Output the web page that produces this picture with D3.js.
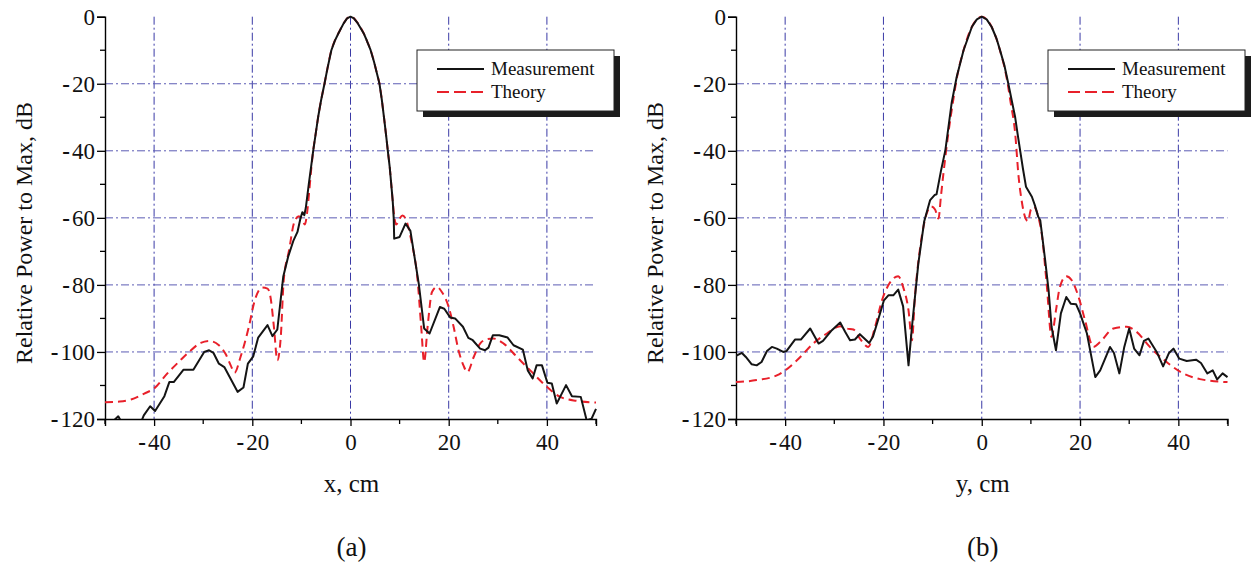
<!DOCTYPE html>
<html>
<head>
<meta charset="utf-8">
<script src="https://cdn.jsdelivr.net/npm/d3@7"></script>
<style>
  body { margin: 0; background: #fff; }
  svg { display: block; }
</style>
</head>
<body>
<div id="chart"></div>
<script>
// tick values
const xTicks = [-40, -20, 0, 20, 40];
const xMinor = [-50, -30, -10, 10, 30, 50];
const yTicks = [0, -20, -40, -60, -80, -100, -120];
const yMinor = [-10, -30, -50, -70, -90, -110];
const yGrid = [-20, -40, -60, -80, -100];
const legendLabels = ['Measurement', 'Theory'];

// (a) x-cut, measurement
const measAx = [-50, -48.6, -47.3, -46.2, -44.5, -42.8, -42.1, -40.8, -39.8, -37.9, -36.9, -36.0, -34.0, -32.0, -29.8, -28.8, -27.9, -26.8, -25.7, -23.0, -21.8, -20.9, -19.8, -18.8, -16.9, -15.9, -14.9, -13.7, -12.7, -11.6, -10.8, -10.2, -9.8, -9.4, -9.1, -8.5, -8.0, -7.6, -7.1, -6.6, -6.0, -5.3, -4.7, -3.9, -3.2, -2.4, -1.4, -0.7, 0, 0.7, 1.5, 2.7, 3.4, 4.1, 4.8, 5.4, 5.9, 6.4, 6.9, 7.3, 7.6, 8.0, 8.3, 8.6, 8.8, 8.9, 10.0, 11.2, 12.2, 13.9, 15.0, 16.1, 18.2, 19.1, 20.3, 21.3, 22.9, 24.0, 24.9, 26.4, 27.4, 28.1, 29.0, 30.3, 32.0, 33.2, 35.1, 36.1, 37.1, 37.9, 39.0, 40.1, 41.0, 42.0, 43.9, 45.1, 46.9, 48.1, 49.1, 50.0];
const measAy = [-124, -121, -119.2, -122, -125, -121.5, -118.9, -116.2, -117.6, -113.2, -109.0, -109.0, -105.3, -105.3, -100.0, -99.5, -100.3, -103.5, -104.5, -111.9, -110.6, -103.5, -101.3, -95.7, -92.0, -95.3, -93.3, -77.6, -71.6, -66.7, -64.2, -60.2, -58.3, -59.2, -57, -50, -44.5, -40, -35, -30, -25, -20, -15.5, -10, -7.2, -4.8, -2, -0.5, 0, -0.5, -2, -5, -7.4, -10, -13.5, -17, -20, -25, -31, -36, -40, -45, -50, -55, -60, -66.2, -65.7, -61.7, -63.9, -79.6, -93.0, -94.5, -86.6, -87.1, -89.7, -90.0, -92.5, -95.8, -96.5, -99.0, -99.5, -98.7, -95.0, -95.0, -95.7, -98.0, -99.3, -105.5, -107.9, -104.0, -104.0, -109.2, -109.4, -115.4, -109.9, -113.2, -113.4, -120.4, -119.9, -117];

// (a) x-cut, theory
const theoAx = [-50, -47, -44.7, -42.0, -40.0, -37.3, -35, -32.9, -30.5, -28.8, -26.8, -25.4, -24.4, -23.6, -22.4, -20.7, -19.5, -18.0, -16.9, -16.3, -15.6, -14.9, -14.2, -13.6, -12.5, -11.5, -10.5, -9.8, -9.3, -8.8, -8.4, -8.0, -7.6, -7.1, -6.6, -6.0, -5.3, -4.7, -3.9, -3.2, -2.4, -1.4, -0.7, 0, 0.7, 1.5, 2.7, 3.4, 4.1, 4.8, 5.4, 5.9, 6.4, 6.9, 7.3, 7.6, 8.0, 8.3, 8.6, 8.9, 9.3, 9.9, 10.6, 11.2, 12.5, 13.6, 14.4, 15.0, 15.7, 16.6, 17.6, 18.6, 20.0, 21.0, 22.0, 23.0, 23.8, 25.1, 26.4, 27.8, 29.1, 31.2, 33.9, 36.6, 40.0, 42.7, 46.1, 50.0];
const theoAy = [-115, -114.8, -114.2, -112.4, -110.9, -106.4, -103, -100.0, -97.3, -96.7, -98.0, -100.7, -104, -106.2, -101.5, -92.5, -84.6, -80.8, -81.1, -83.6, -92.5, -102.5, -95.5, -78.6, -69.6, -61.5, -59.5, -60.5, -62, -58, -52, -45.5, -40, -35, -30, -25, -20, -15.5, -10, -7.2, -4.8, -2, -0.5, 0, -0.5, -2, -5, -7.4, -10, -13.5, -17, -20, -25, -31, -36, -40, -45, -50, -55, -59.5, -62, -60.5, -59.3, -60.2, -67.6, -77.6, -92.5, -103.0, -92.5, -82.1, -80.6, -82.1, -86.6, -92.5, -99.5, -104, -106.0, -101.5, -97.5, -96.2, -96.0, -97.5, -101.5, -105.5, -110.4, -113.4, -114.6, -115.1];

// (b) y-cut, measurement
const measBx = [-50, -48.8, -48.0, -46.8, -45.8, -44.8, -43.7, -42.7, -41.7, -40.4, -39.7, -38.0, -36.8, -34.9, -33.2, -32.3, -30.5, -28.8, -27.8, -26.8, -25.8, -24.8, -22.9, -22.1, -21.0, -19.9, -19.0, -18.0, -17.0, -16.0, -14.9, -14.2, -12.9, -11.7, -10.5, -9.6, -9.2, -8.3, -7.4, -6.6, -6.1, -5.1, -3.7, -2.0, -1.0, 0, 1.0, 2.0, 3.0, 3.7, 4.6, 5.4, 6.1, 6.8, 7.3, 7.8, 8.4, 9.0, 10.2, 10.8, 11.5, 11.9, 12.9, 13.6, 14.2, 15.1, 16.1, 17.2, 18.1, 19.2, 20.0, 21.4, 23.1, 24.1, 26.1, 26.9, 28.0, 29.0, 30.0, 31.0, 32.1, 33.0, 33.9, 35.6, 36.9, 38.1, 39.0, 40.2, 41.7, 43.6, 44.6, 45.9, 47.0, 47.9, 49.0, 50.0];
const measBy = [-101.2, -100.3, -101.5, -103.7, -104.0, -103.0, -99.7, -98.5, -99.0, -100.0, -99.7, -96.3, -96.3, -93.0, -97.5, -96.7, -93.5, -91.2, -94.0, -96.5, -96.3, -94.7, -97.3, -95.3, -90.0, -84.6, -83.1, -83.1, -81.4, -86.4, -104.0, -92.5, -73.6, -61, -54.7, -53.2, -53, -46, -39.8, -31, -25.5, -18, -10, -3, -0.8, 0, -0.8, -3, -6.5, -9.9, -14.5, -19.9, -25, -30, -35, -39.8, -45.5, -50.7, -53.7, -56.2, -59.7, -60.7, -72.6, -81.6, -92.5, -99.5, -88.5, -83.6, -85.6, -85.8, -88.5, -94.5, -107.5, -105.5, -98.5, -100.3, -106.4, -98.5, -93.0, -99.0, -101.0, -96.7, -96.0, -100.0, -104.3, -100.3, -99.0, -102.0, -102.7, -102.3, -103.3, -106.4, -105.5, -108.2, -106.4, -107.5];

// (b) y-cut, theory
const theoBx = [-50, -45.8, -41.7, -40.0, -37.6, -33.9, -31.5, -28.8, -27.5, -26.1, -24.8, -23.1, -21.7, -20.3, -18.8, -17.0, -16.0, -14.9, -14.2, -13.6, -12.6, -11.2, -10.3, -9.5, -8.8, -8.3, -7.8, -6.8, -5.8, -5.1, -3.7, -2.0, -1.0, 0, 1.0, 2.0, 3.7, 5.1, 5.8, 6.8, 7.5, 8.1, 8.8, 9.4, 10.0, 10.6, 11.5, 12.2, 13.2, 14.2, 15.1, 15.9, 17.2, 18.3, 19.7, 21.0, 22.7, 24.1, 26.8, 29.5, 31.5, 34.2, 37.6, 41.0, 44.4, 50.0];
const theoBy = [-109.0, -108.4, -107.0, -105.5, -102.5, -97.0, -94.5, -92.3, -93.0, -93.3, -96.0, -98.5, -92.5, -84.6, -79.6, -77.4, -80.6, -87.6, -96.5, -83.6, -69.6, -58.7, -56.6, -57.5, -60.2, -53.5, -46.8, -34.8, -24.9, -18.5, -10, -3, -0.8, 0, -0.8, -3, -10, -18.5, -24.9, -34.8, -47.8, -54.7, -59.7, -61, -57.5, -56.7, -59.7, -64.7, -79.6, -95.5, -87.6, -80.6, -77.4, -78.6, -83.6, -90.5, -98.5, -97.0, -93.0, -92.5, -94.0, -98.5, -103.0, -106.4, -108.1, -109.0];

const W = 1257, H = 566;
const FONT = '"Liberation Serif", "Times New Roman", serif';

const svg = d3.select('#chart')
  .append('svg')
  .attr('width', W)
  .attr('height', H)
  .style('font-family', FONT);

svg.append('rect').attr('width', W).attr('height', H).attr('fill', '#fff');

// tick label: bold hyphen, small gap, then digits
function tickLabel(sel) {
  sel.each(function (d) {
    const t = d3.select(this).text(null);
    if (d < 0) {
      t.append('tspan').style('font-weight', 'bold').text('-');
      t.append('tspan').attr('dx', 2).text(Math.abs(d));
    } else {
      t.append('tspan').text(d);
    }
  });
}

function drawPanel(id, left, right, xs1, ys1, xs2, ys2, xLabel, tag) {
  const x = d3.scaleLinear().domain([-50, 50]).range([left, right]);
  const y = d3.scaleLinear().domain([-120, 0]).range([419, 16.7]);

  const g = svg.append('g');

  // clip for the curves
  svg.append('clipPath').attr('id', 'clip-' + id)
    .append('rect')
    .attr('x', left).attr('y', y(0) - 4)
    .attr('width', right - left + 1).attr('height', y(-120) - y(0) + 4);

  // grid (dash-dot)
  g.append('g')
    .selectAll('line')
    .data(xTicks)
    .enter()
    .append('line')
    .attr('x1', d => x(d)).attr('x2', d => x(d))
    .attr('y1', y(0)).attr('y2', y(-120))
    .attr('stroke', '#3a3aa6')
    .attr('stroke-width', 1)
    .attr('stroke-dasharray', '8,3,2,3');

  g.append('g')
    .selectAll('line')
    .data(yGrid)
    .enter()
    .append('line')
    .attr('x1', left).attr('x2', right)
    .attr('y1', d => y(d)).attr('y2', d => y(d))
    .attr('stroke', '#5c5cb4')
    .attr('stroke-width', 1)
    .attr('stroke-dasharray', '8,3,2,3');

  // axes
  const yAxis = g.append('g')
    .attr('transform', `translate(${left},0)`)
    .call(d3.axisLeft(y).tickValues(yTicks).tickSize(8).tickPadding(2));
  yAxis.select('.domain').attr('stroke', '#000').attr('stroke-width', 1.4);
  yAxis.selectAll('.tick line').attr('stroke-width', 1.3);
  yAxis.selectAll('text')
    .style('font-size', '23px')
    .style('font-family', FONT)
    .attr('fill', '#111')
    .attr('dy', '0.34em')
    .call(tickLabel);

  g.append('g')
    .selectAll('line')
    .data(yMinor)
    .enter()
    .append('line')
    .attr('x1', left - 5).attr('x2', left)
    .attr('y1', d => y(d)).attr('y2', d => y(d))
    .attr('stroke', '#000').attr('stroke-width', 1.3);

  const xAxis = g.append('g')
    .attr('transform', `translate(0,${y(-120)})`)
    .call(d3.axisBottom(x).tickValues(xTicks).tickSize(7).tickPadding(8));
  xAxis.select('.domain').attr('stroke', '#000').attr('stroke-width', 1.4);
  xAxis.selectAll('.tick line').attr('stroke-width', 1.3);
  xAxis.selectAll('text')
    .style('font-size', '23px')
    .style('font-family', FONT)
    .attr('fill', '#111')
    .call(tickLabel);

  g.append('g')
    .selectAll('line')
    .data(xMinor)
    .enter()
    .append('line')
    .attr('x1', d => x(d)).attr('x2', d => x(d))
    .attr('y1', y(-120)).attr('y2', y(-120) + 5)
    .attr('stroke', '#000').attr('stroke-width', 1.3);

  // axis titles
  g.append('text')
    .attr('transform', `translate(${left - 73},233) rotate(-90)`)
    .attr('text-anchor', 'middle')
    .style('font-size', '24px')
    .attr('fill', '#111')
    .text('Relative Power to Max, dB');

  g.append('text')
    .attr('x', x(0) + 1)
    .attr('y', 492)
    .attr('text-anchor', 'middle')
    .style('font-size', '25px')
    .attr('fill', '#111')
    .text(xLabel);

  g.append('text')
    .attr('x', x(0) + 1)
    .attr('y', 556)
    .attr('text-anchor', 'middle')
    .style('font-size', '27px')
    .attr('fill', '#111')
    .text(tag);

  // curves
  const theo = xs2.map((v, i) => [v, ys2[i]]);
  const meas = xs1.map((v, i) => [v, ys1[i]]);

  g.append('path')
    .datum(theo)
    .attr('clip-path', `url(#clip-${id})`)
    .attr('fill', 'none')
    .attr('stroke', '#e8202a')
    .attr('stroke-width', 2)
    .attr('stroke-dasharray', '8,5')
    .attr('d', d3.line().x(d => x(d[0])).y(d => y(d[1])).curve(d3.curveMonotoneX));

  g.append('path')
    .datum(meas)
    .attr('clip-path', `url(#clip-${id})`)
    .attr('fill', 'none')
    .attr('stroke', '#141414')
    .attr('stroke-width', 2)
    .attr('stroke-linejoin', 'round')
    .attr('d', d3.line().x(d => x(d[0])).y(d => y(d[1])));

  // legend with drop shadow
  const lx = left + 312, ly = 50, lw = 197, lh = 61;
  const legend = g.append('g');
  legend.append('rect')
    .attr('x', lx + 6).attr('y', ly + 6)
    .attr('width', lw).attr('height', lh)
    .attr('fill', '#1c1c1c');
  legend.append('rect')
    .attr('x', lx).attr('y', ly)
    .attr('width', lw).attr('height', lh)
    .attr('fill', '#fff')
    .attr('stroke', '#222')
    .attr('stroke-width', 1);

  const styles = [
    { color: '#141414', dash: null },
    { color: '#e8202a', dash: '12,5' }
  ];
  legendLabels.forEach((label, i) => {
    const ry = ly + 19 + i * 23;
    legend.append('line')
      .attr('x1', lx + 20).attr('x2', lx + 67)
      .attr('y1', ry).attr('y2', ry)
      .attr('stroke', styles[i].color)
      .attr('stroke-width', 2)
      .attr('stroke-dasharray', styles[i].dash);
    legend.append('text')
      .attr('x', lx + 74)
      .attr('y', ry + 6)
      .style('font-size', '19px')
      .attr('fill', '#111')
      .text(label);
  });
}

drawPanel('a', 105, 596, measAx, measAy, theoAx, theoAy, 'x, cm', '(a)');
drawPanel('b', 736, 1227.5, measBx, measBy, theoBx, theoBy, 'y, cm', '(b)');
</script>
</body>
</html>
